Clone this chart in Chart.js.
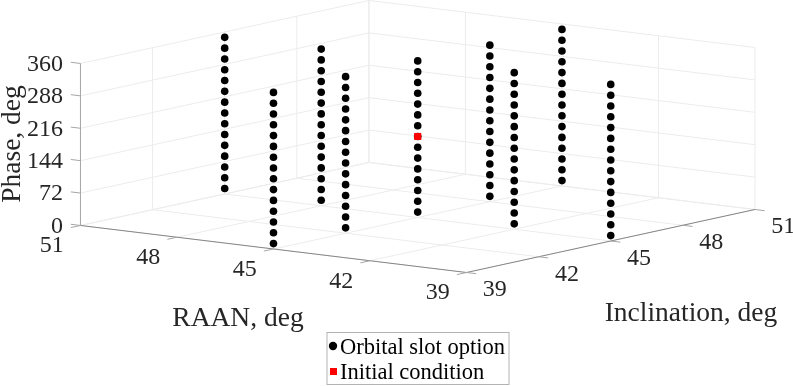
<!DOCTYPE html>
<html>
<head>
<meta charset="utf-8">
<title>Orbital slot options</title>
<script src="https://cdn.jsdelivr.net/npm/chart.js@4"></script>
<style>
  html, body { margin: 0; padding: 0; background: #fff; }
  canvas { display: block; }
</style>
</head>
<body>
<canvas id="chart" width="793" height="386"></canvas>
<script>
// Slot columns: a cross in RAAN/inclination
const slotRaan = [51, 48, 45, 45, 45, 45, 45, 42, 39];
const slotInclination = [45, 45, 39, 42, 45, 48, 51, 45, 45];
const slotPhases = [12, 36, 60, 84, 108, 132, 156, 180, 204, 228, 252, 276, 300, 324, 348];

const initialRaan = [45];
const initialInclination = [45];
const initialPhase = [180];

const raanTicks = [51, 48, 45, 42, 39];
const inclinationTicks = [39, 42, 45, 48, 51];
const phaseTicks = [0, 72, 144, 216, 288, 360];

const SERIF = '"Liberation Serif", "Times New Roman", serif';
const TEXT = "#262626";
const GRID = "#ececec";

// Fixed MATLAB-style view: degrees -> picture units
function project(raan, inc, phase) {
  return {
    x: 466.5 - (raan - 39) * 32.17 + (inc - 39) * 24.04,
    y: 272.5 - (raan - 39) * 3.92 - (inc - 39) * 5.25 - phase * 0.45,
  };
}

const slotPoints = [];
slotRaan.forEach((r, i) => {
  for (const ph of slotPhases) slotPoints.push(project(r, slotInclination[i], ph));
});
const initialPoints = initialRaan.map((r, i) =>
  project(r, initialInclination[i], initialPhase[i])
);

const box3d = {
  id: "box3d",
  // grid and axes go under the points
  beforeDatasetsDraw(chart) {
    const { ctx, scales } = chart;
    const px = (p) => [scales.x.getPixelForValue(p.x), scales.y.getPixelForValue(p.y)];
    const line = (a, b, color) => {
      ctx.strokeStyle = color;
      ctx.lineWidth = 1;
      ctx.beginPath();
      ctx.moveTo(...px(a));
      ctx.lineTo(...px(b));
      ctx.stroke();
    };
    ctx.save();

    // floor
    for (const r of raanTicks) line(project(r, 39, 0), project(r, 51, 0), GRID);
    for (const i of inclinationTicks) line(project(39, i, 0), project(51, i, 0), GRID);
    // back walls
    for (const z of phaseTicks) {
      line(project(51, 39, z), project(51, 51, z), GRID);
      line(project(51, 51, z), project(39, 51, z), GRID);
    }
    for (const i of inclinationTicks) line(project(51, i, 0), project(51, i, 360), GRID);
    for (const r of raanTicks) line(project(r, 51, 0), project(r, 51, 360), GRID);

    // axes
    line(project(51, 39, 0), project(39, 39, 0), "#858585");
    line(project(39, 39, 0), project(39, 51, 0), "#858585");
    line(project(51, 39, 0), project(51, 39, 360), "#a6a6a6");

    // ticks
    for (const r of raanTicks) line(project(r, 39, 0), project(r, 38.6, 0), "#a6a6a6");
    for (const i of inclinationTicks) line(project(39, i, 0), project(38.7, i, 0), "#a6a6a6");
    for (const z of phaseTicks) line(project(51, 39, z), project(51.3, 39, z), "#a6a6a6");

    // tick labels
    ctx.fillStyle = TEXT;
    ctx.font = `24px ${SERIF}`;
    ctx.textAlign = "center";
    ctx.textBaseline = "middle";
    for (const r of raanTicks) {
      const [x, y] = px(project(r, 39, 0));
      ctx.fillText(String(r), x - 28.7, y + 20.5);
    }
    for (const i of inclinationTicks) {
      const [x, y] = px(project(39, i, 0));
      ctx.fillText(String(i), x + 28.3, y + 17.5);
    }
    ctx.textAlign = "right";
    for (const z of phaseTicks) {
      const [x, y] = px(project(51, 39, z));
      ctx.fillText(String(z), x - 17.5, y + 1);
    }

    // axis titles
    ctx.font = `27.5px ${SERIF}`;
    ctx.textAlign = "center";
    ctx.textBaseline = "alphabetic";
    ctx.fillText("RAAN, deg", 238, 326);
    ctx.fillText("Inclination, deg", 691, 321);
    ctx.save();
    ctx.translate(20, 144);
    ctx.rotate(-Math.PI / 2);
    ctx.fillText("Phase, deg", 0, 0);
    ctx.restore();

    ctx.restore();
  },
  // legend sits over everything, below the axes box
  afterDatasetsDraw(chart) {
    const { ctx } = chart;
    const [slots, initial] = chart.data.datasets;
    ctx.save();
    ctx.fillStyle = "#fff";
    ctx.fillRect(327, 332.5, 182, 52);
    ctx.strokeStyle = "#b3b3b3";
    ctx.lineWidth = 1;
    ctx.strokeRect(327, 332.5, 182, 52);

    ctx.fillStyle = slots.backgroundColor;
    ctx.beginPath();
    ctx.arc(333, 346, 4.2, 0, Math.PI * 2);
    ctx.fill();
    ctx.fillStyle = initial.backgroundColor;
    ctx.fillRect(330, 368, 7, 7);

    ctx.fillStyle = "#000";
    ctx.font = `22.5px ${SERIF}`;
    ctx.textAlign = "left";
    ctx.textBaseline = "alphabetic";
    ctx.fillText(slots.label, 340, 354);
    ctx.fillText(initial.label, 340, 379);
    ctx.restore();
  },
};

new Chart(document.getElementById("chart"), {
  type: "scatter",
  data: {
    datasets: [
      {
        label: "Orbital slot option",
        data: slotPoints,
        backgroundColor: "#000000",
        borderWidth: 0,
        pointStyle: "circle",
        pointRadius: 3.8,
        order: 2,
      },
      {
        label: "Initial condition",
        data: initialPoints,
        backgroundColor: "#ff0000",
        borderWidth: 0,
        pointStyle: "rect",
        pointRadius: 5,
        order: 1,
      },
    ],
  },
  options: {
    responsive: false,
    animation: false,
    events: [],
    layout: { padding: 0, autoPadding: false },
    plugins: {
      legend: { display: false },
      tooltip: { enabled: false },
    },
    scales: {
      x: { type: "linear", min: 0, max: 793, display: false },
      y: { type: "linear", min: 0, max: 386, reverse: true, display: false },
    },
  },
  plugins: [box3d],
});
</script>
</body>
</html>
